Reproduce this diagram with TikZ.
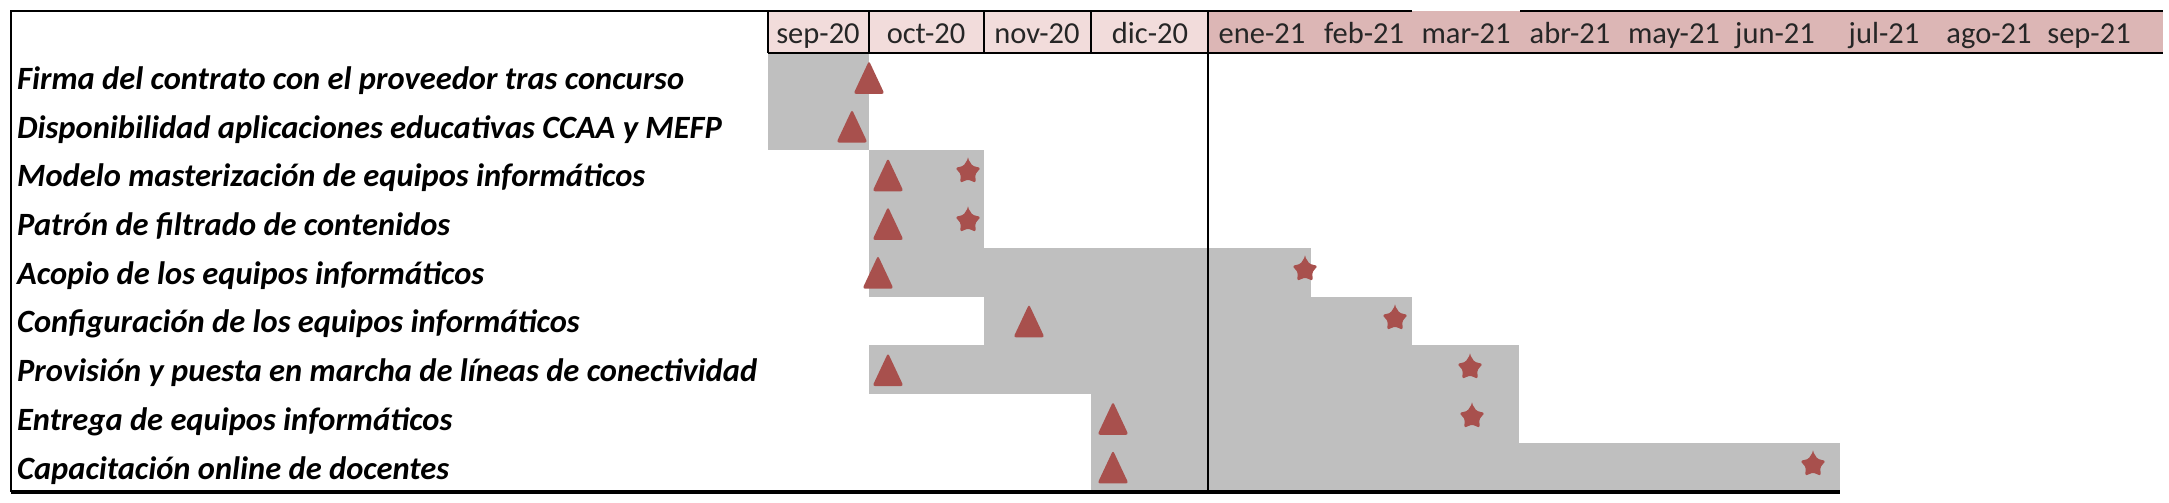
\documentclass[tikz,border=0pt]{standalone}
\usepackage{fontspec}
\setmainfont{Carlito}
\definecolor{barg}{RGB}{191,191,191}
\definecolor{hdrA}{RGB}{242,220,219}
\definecolor{hdrB}{RGB}{220,182,181}
\definecolor{mk}{RGB}{168,80,77}
\tikzset{
  task/.style={anchor=base west, inner sep=0pt, font=\fontsize{32.5}{38}\selectfont\bfseries\itshape},
  month/.style={anchor=base, inner sep=0pt, text=black!85, font=\fontsize{30.5}{36}\selectfont},
  frame/.style={line width=2pt, black},
  tri/.pic={\fill[mk, rounded corners=2.5pt] (-15.5,16.5) -- (0,-16.5) -- (15.5,16.5) -- cycle;},
  str/.pic={\fill[mk, rounded corners=1.5pt] (270:13.2) \foreach \a in {0,...,4} { -- ({270+72*\a}:13.2) -- ({306+72*\a}:7.6)} -- cycle;}
}
\begin{document}
\begin{tikzpicture}[x=1pt,y=-1pt]
\useasboundingbox (0,0) rectangle (2169,503);
\fill[white] (0,0) rectangle (2169,503);
% header fills
\fill[hdrA] (768,11) rectangle (1208,53);
\fill[hdrB] (1208,11) rectangle (2163,53);
% gantt bars
\fill[barg] (768,53) rectangle (869,150.4);
\fill[barg] (869,150.4) rectangle (984,247.8);
\fill[barg] (869,247.8) rectangle (1311,296.5);
\fill[barg] (984,296.5) rectangle (1412,345.2);
\fill[barg] (869,345.2) rectangle (1519,393.9);
\fill[barg] (1091,393.9) rectangle (1519,442.6);
\fill[barg] (1091,442.6) rectangle (1840,491.3);
% frame and grid lines
\coordinate (tl) at (11,11);
\coordinate (bl) at (11,492);
\coordinate (br) at (1840,492);
\coordinate (gapL) at (1412,11);
\coordinate (gapR) at (1520,11);
\coordinate (tr) at (2163,11);
\draw[frame] (gapL) -- (tl) -- (bl);
\draw[frame] (gapR) -- (tr);
\draw[line width=3.5pt] (bl) -- (br);
\draw[frame] (768,53) -- (2163,53);
\foreach \x in {768,869,984,1091} { \draw[frame] (\x,11) -- (\x,53); }
\draw[frame] (1208,11) -- (1208,492);
% month labels
\node[month] (m1) at (818,44) {sep-20};
\node[month] (m2) at (926,44) {oct-20};
\node[month] (m3) at (1037,44) {nov-20};
\node[month] (m4) at (1150,44) {dic-20};
\node[month] (m5) at (1262,44) {ene-21};
\node[month] (m6) at (1364,44) {feb-21};
\node[month] (m7) at (1466,44) {mar-21};
\node[month] (m8) at (1570,44) {abr-21};
\node[month] (m9) at (1674,44) {may-21};
\node[month] (m10) at (1775,44) {jun-21};
\node[month] (m11) at (1884,44) {jul-21};
\node[month] (m12) at (1989,44) {ago-21};
\node[month] (m13) at (2089,44) {sep-21};
% task labels
\node[task] (t1) at (17,89.4) {Firma del contrato con el proveedor tras concurso};
\node[task] (t2) at (17,138.1) {Disponibilidad aplicaciones educativas CCAA y MEFP};
\node[task] (t3) at (17,186.8) {Modelo masterización de equipos informáticos};
\node[task] (t4) at (17,235.5) {Patrón de filtrado de contenidos};
\node[task] (t5) at (17,284.2) {Acopio de los equipos informáticos};
\node[task] (t6) at (17,332.9) {Configuración de los equipos informáticos};
\node[task] (t7) at (17,381.6) {Provisión y puesta en marcha de líneas de conectividad};
\node[task] (t8) at (17,430.3) {Entrega de equipos informáticos};
\node[task] (t9) at (17,479.0) {Capacitación online de docentes};
% markers
\pic at (869,77.35) {tri};
\pic at (852,126.05) {tri};
\pic at (888,174.75) {tri};
\pic at (968,172) {str};
\pic at (888,223.45) {tri};
\pic at (968,221) {str};
\pic at (878,272.15) {tri};
\pic at (1305,270) {str};
\pic at (1029,320.85) {tri};
\pic at (1395,319) {str};
\pic at (888,369.55) {tri};
\pic at (1470,368) {str};
\pic at (1113,418.25) {tri};
\pic at (1472,417) {str};
\pic at (1113,466.95) {tri};
\pic at (1813,465) {str};
\end{tikzpicture}
\end{document}
